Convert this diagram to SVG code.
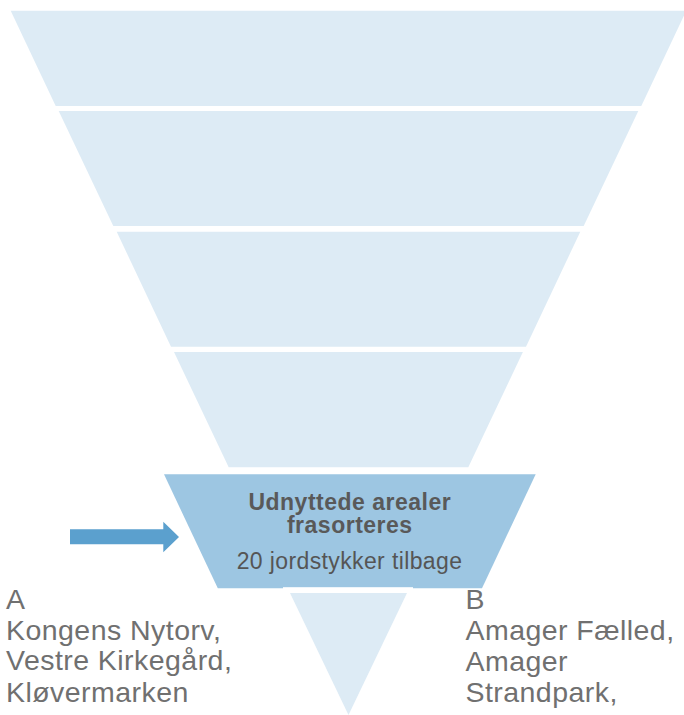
<svg xmlns="http://www.w3.org/2000/svg" width="684" height="715" viewBox="0 0 684 715">
<style>
.band{fill:#DDEBF5;}
.hl{fill:#9DC6E2;}
.arrow{fill:#5BA0CE;}
.t{font-family:"Liberation Sans",Arial,sans-serif;}
.b{font-size:23px;font-weight:bold;fill:#595959;text-anchor:middle;letter-spacing:0.5px;}
.r{font-size:23px;fill:#555555;text-anchor:middle;letter-spacing:0.38px;}
.lbl{font-size:28.5px;fill:#707070;letter-spacing:0.45px;}
</style>
<rect width="684" height="715" fill="#FFFFFF"/>
<g id="band1"><polygon class="band" points="10.7,10.7 686.3,10.7 641.3,106 55.7,106"/></g>
<g id="band2"><polygon class="band" points="58.7,111 638.3,111 583.7,226 113.3,226"/></g>
<g id="band3"><polygon class="band" points="116.7,231.7 580.3,231.7 526,346.7 171,346.7"/></g>
<g id="band4"><polygon class="band" points="174,352 522.9,352 468.3,467.3 228.7,467.3"/></g>
<g id="band5">
<polygon class="hl" points="164,474.3 535.7,474.3 482,588.3 217.8,588.3"/>
<text class="t b" x="349.8" y="510">Udnyttede arealer</text>
<text class="t b" x="349.8" y="533.3">frasorteres</text>
<text class="t r" x="349.5" y="569.3">20 jordstykker tilbage</text>
</g>
<g id="band6">
<rect x="283" y="587.2" width="130" height="6" fill="#FFFFFF"/>
<polygon class="band" points="290,593 407,593 348.5,715"/>
</g>
<g id="connectors">
<polygon class="arrow" points="70,529.3 163.3,529.3 163.3,521.7 179,537 163.3,552.3 163.3,544.3 70,544.3"/>
</g>
<g id="labelA">
<text class="t lbl" x="6" y="608.5">A</text>
<text class="t lbl" x="6" y="639.5">Kongens Nytorv,</text>
<text class="t lbl" x="6" y="670.3">Vestre Kirkegård,</text>
<text class="t lbl" x="6" y="701.5">Kløvermarken</text>
</g>
<g id="labelB">
<text class="t lbl" x="465.5" y="608.5">B</text>
<text class="t lbl" x="465.5" y="639.8">Amager Fælled,</text>
<text class="t lbl" x="465.5" y="671">Amager</text>
<text class="t lbl" x="465.5" y="702">Strandpark,</text>
</g>
</svg>
